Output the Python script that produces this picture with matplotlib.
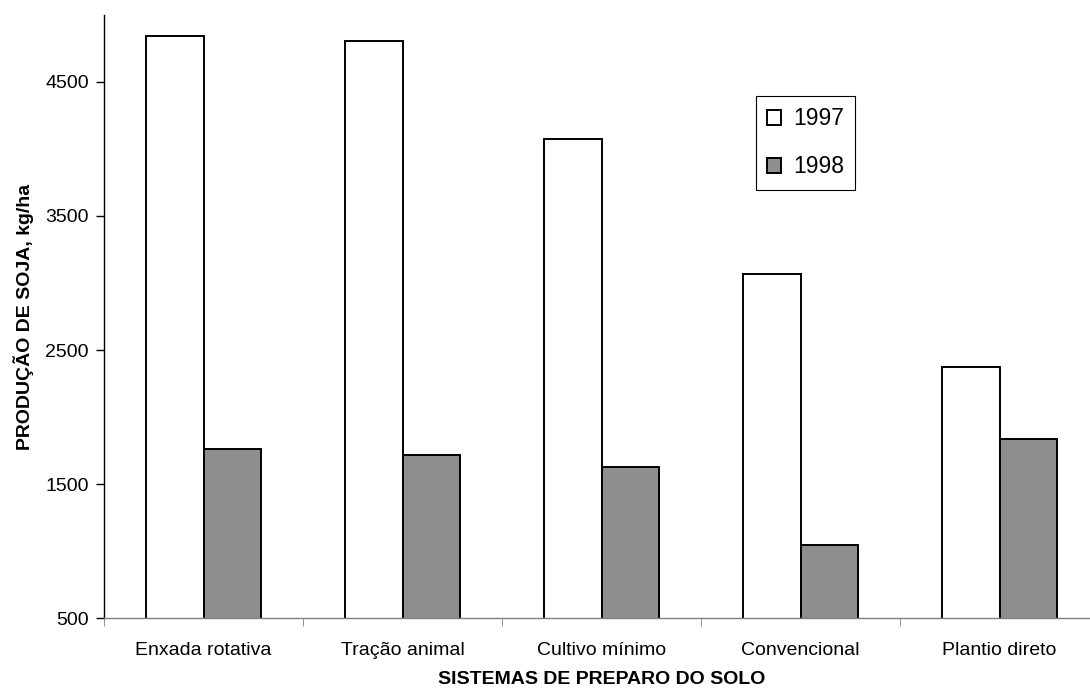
# Produção de soja por sistema de preparo do solo, 1997 x 1998
import numpy as np
import matplotlib
matplotlib.use("Agg")
import matplotlib.pyplot as plt

categorias = ["Enxada rotativa", "Tração animal", "Cultivo mínimo", "Convencional", "Plantio direto"]
prod_1997 = [4840, 4805, 4075, 3065, 2370]
prod_1998 = [1760, 1715, 1625, 1045, 1835]
yticks = [500, 1500, 2500, 3500, 4500]

plt.rcParams["font.family"] = ["Liberation Sans", "DejaVu Sans"]

fig = plt.figure(figsize=(10.9, 6.9), dpi=100)
ax = fig.add_axes([0.0954, 0.1043, 0.913, 0.874])

x = np.arange(len(categorias))
w = 0.29
ax.bar(x - w / 2, prod_1997, w, bottom=0, color="white", edgecolor="black", linewidth=1.4, label="1997")
ax.bar(x + w / 2, prod_1998, w, bottom=0, color="#8e8e8e", edgecolor="black", linewidth=1.4, label="1998")

ax.set_xlim(-0.5, len(categorias) - 0.5)
ax.set_ylim(500, 5000)
ax.set_yticks(yticks)
ax.set_yticklabels([str(v) for v in yticks], fontsize=14)

# categorias no centro, marcas de divisão entre elas
ax.set_xticks(x)
ax.set_xticklabels(categorias, fontsize=14)
ax.tick_params(axis="x", which="major", length=0, pad=17)
ax.set_xticks(np.arange(-0.5, len(categorias)), minor=True)
ax.tick_params(axis="x", which="minor", length=6, color="#808080", direction="out")
ax.tick_params(axis="y", length=6, width=1, direction="out", pad=5)

for s in ["top", "right"]:
    ax.spines[s].set_visible(False)
ax.spines["left"].set_linewidth(1.0)
ax.spines["bottom"].set_color("#808080")
ax.spines["bottom"].set_linewidth(1.0)

ax.set_ylabel("PRODUÇÃO DE SOJA, kg/ha", fontsize=14, fontweight="bold", labelpad=8)
ax.set_xlabel("SISTEMAS DE PREPARO DO SOLO", fontsize=14, fontweight="bold", labelpad=9)

leg = ax.legend(loc="upper left", bbox_to_anchor=(0.655, 0.866), borderaxespad=0,
                fontsize=16.5, fancybox=False, edgecolor="black", framealpha=1,
                handlelength=0.62, handleheight=0.62, handletextpad=0.5,
                labelspacing=1.1, borderpad=0.5)
leg.get_frame().set_linewidth(0.8)

plt.savefig("out.png", dpi=100)
